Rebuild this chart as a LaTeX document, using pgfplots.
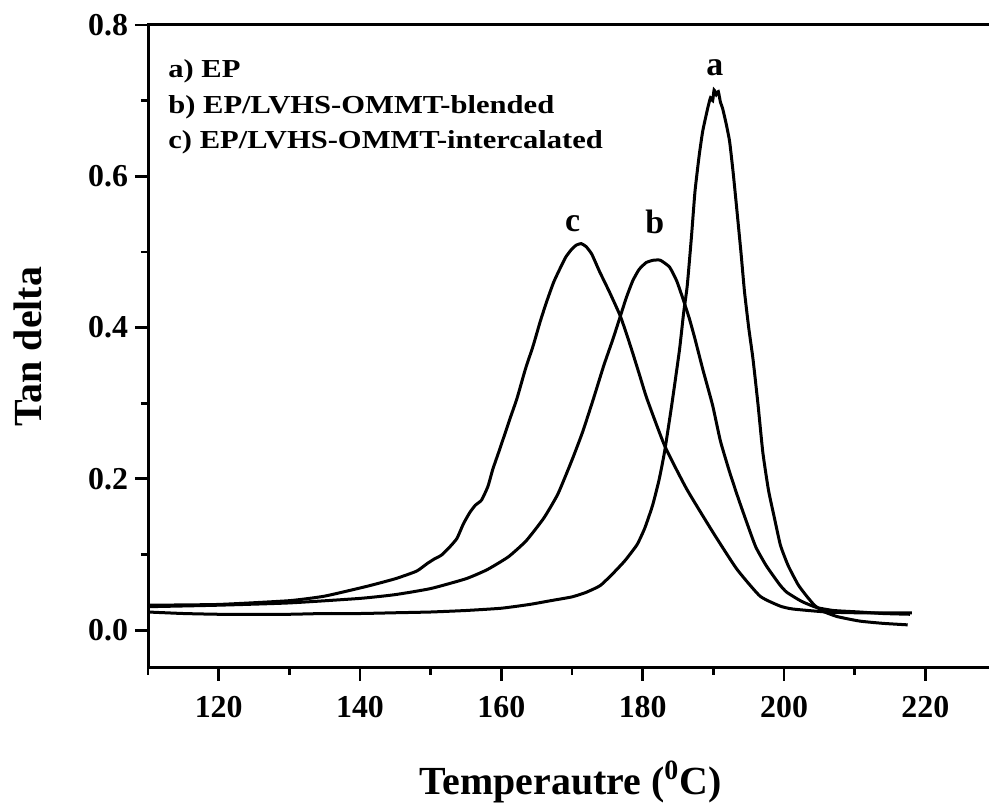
\documentclass[border=0pt]{standalone}
\usepackage{fontspec}
\setmainfont{Liberation Serif}
\usepackage{graphicx}
\usepackage{pgfplots}
\pgfplotsset{compat=1.18}
\begin{document}
\begin{tikzpicture}
\begin{axis}[
  name=ax,
  scale only axis,
  width=422.5bp, height=321.5bp,
  xmin=110, xmax=229.57, ymin=-0.05, ymax=0.8,
  xtick={120,140,...,220}, minor xtick={110,130,...,210},
  ytick={0,0.2,0.4,0.6,0.8}, minor ytick={0.1,0.3,0.5,0.7},
  tick pos=left, tick align=outside,
  major tick length=6.5bp, minor tick length=3.5bp,
  every tick/.style={line width=1.4bp, black},
  axis line style={line width=1.5bp},
  /pgf/number format/assume math mode=true,
  ticklabel style={font=\bfseries\fontsize{16}{16}\selectfont},
  yticklabel style={/pgf/number format/.cd, fixed, fixed zerofill, precision=1},
  xticklabel style={yshift=-4bp, /pgf/number format/.cd, fixed, precision=0, set thousands separator={}},
  xlabel={Temperautre (\textsuperscript{0}C)},
  ylabel={Tan delta},
  label style={font=\bfseries\fontsize{20}{20}\selectfont},
  xlabel style={yshift=-15bp},
  ylabel style={yshift=16.5bp},
  clip=false,
]
\addplot[black, line width=1.5bp, smooth, tension=0.3] coordinates {
(110,0.024) (115,0.022) (120,0.021) (125,0.021) (130,0.021) (135,0.022) (140,0.022)
(145,0.023) (150,0.024) (155,0.026) (160,0.029) (164,0.034) (167,0.039) (170,0.044)
(172,0.050) (174,0.059) (175.8,0.075) (177.5,0.092) (179.2,0.113) (180.3,0.135)
(181.4,0.165) (182.3,0.198) (183.1,0.236) (184.1,0.297) (185.2,0.370) (185.8,0.420)
(186.3,0.455) (186.9,0.520) (187.4,0.580) (188.0,0.628) (188.5,0.660) (189.2,0.690)
(189.6,0.704) (189.9,0.700) (190.1,0.714) (190.4,0.708) (190.7,0.712) (191.0,0.698)
(191.3,0.690) (191.8,0.670) (192.3,0.646) (192.8,0.605) (193.3,0.558) (193.9,0.500)
(194.4,0.448) (195.0,0.400) (195.6,0.359) (196.3,0.300) (197.0,0.235) (197.8,0.185)
(198.6,0.150) (199.5,0.112) (200.6,0.085) (202.0,0.060) (203.2,0.045) (204.3,0.033)
(205.5,0.025) (207.5,0.018) (210.7,0.012) (214,0.009) (217.5,0.007)
};
\addplot[black, line width=1.5bp, smooth, tension=0.3] coordinates {
(110,0.031) (120,0.033) (130,0.036) (140,0.042) (145,0.047) (150,0.055) (155,0.068)
(158,0.080) (161,0.097) (163.5,0.118) (166,0.148) (168,0.180) (170,0.225) (171.5,0.262)
(173,0.305) (174.5,0.350) (175.8,0.385) (176.8,0.414) (177.7,0.440) (178.6,0.462)
(179.5,0.477) (180.5,0.486) (181.5,0.489) (182.5,0.489) (183.8,0.480) (184.8,0.462)
(185.7,0.438) (186.6,0.412) (187.4,0.385) (188.5,0.345) (189.9,0.297) (191.0,0.250)
(192.3,0.209) (193.5,0.175) (194.7,0.143) (196.0,0.110) (197.5,0.085) (199.4,0.060)
(200.4,0.050) (202.5,0.038) (204.6,0.030) (207,0.026) (210.7,0.024) (214,0.022) (217.8,0.021)
};
\addplot[black, line width=1.5bp, smooth, tension=0.3] coordinates {
(110,0.033) (120,0.034) (130,0.039) (135,0.045) (141,0.058) (145,0.068) (148,0.078)
(149.5,0.088) (150.5,0.094) (151.5,0.099) (152.5,0.108) (153.7,0.121) (154.6,0.140)
(155.5,0.155) (156.3,0.165) (157.2,0.172) (158.1,0.190) (158.8,0.213) (159.8,0.240)
(161.2,0.279) (162.2,0.306) (163.4,0.345) (164.5,0.376) (165.5,0.408) (166.4,0.434)
(167.4,0.460) (168.3,0.478) (169.1,0.493) (169.9,0.503) (170.6,0.509) (171.3,0.511)
(172.0,0.507) (172.8,0.497) (173.9,0.474) (175.3,0.447) (176.8,0.416) (177.7,0.392)
(178.6,0.366) (179.6,0.336) (180.6,0.306) (183.1,0.244) (186.2,0.187) (189.9,0.130)
(193.3,0.081) (196.6,0.045) (199.4,0.032) (201.2,0.028) (206,0.024) (210,0.023) (218.1,0.023)
};
\node[font=\bfseries\fontsize{17}{17}\selectfont] at (axis cs:190.2,0.744) {a};
\node[font=\bfseries\fontsize{17}{17}\selectfont] at (axis cs:181.7,0.540) {b};
\node[font=\bfseries\fontsize{17}{17}\selectfont] at (axis cs:170.1,0.538) {c};
\end{axis}
\begin{scope}[every node/.style={anchor=base west, inner sep=0pt, font=\bfseries\fontsize{13}{13}\selectfont}]
\node at ([shift={(10bp,-26.5bp)}]ax.north west) {\scalebox{1.18}[1]{a) EP}};
\node at ([shift={(10bp,-44.5bp)}]ax.north west) {\scalebox{1.18}[1]{b) EP/LVHS-OMMT-blended}};
\node at ([shift={(10bp,-62bp)}]ax.north west) {\scalebox{1.18}[1]{c) EP/LVHS-OMMT-intercalated}};
\end{scope}
\pgfresetboundingbox
\path ([shift={(-74bp,-68bp)}]ax.south west) rectangle ([shift={(-2bp,12.5bp)}]ax.north east);
\end{tikzpicture}
\end{document}
